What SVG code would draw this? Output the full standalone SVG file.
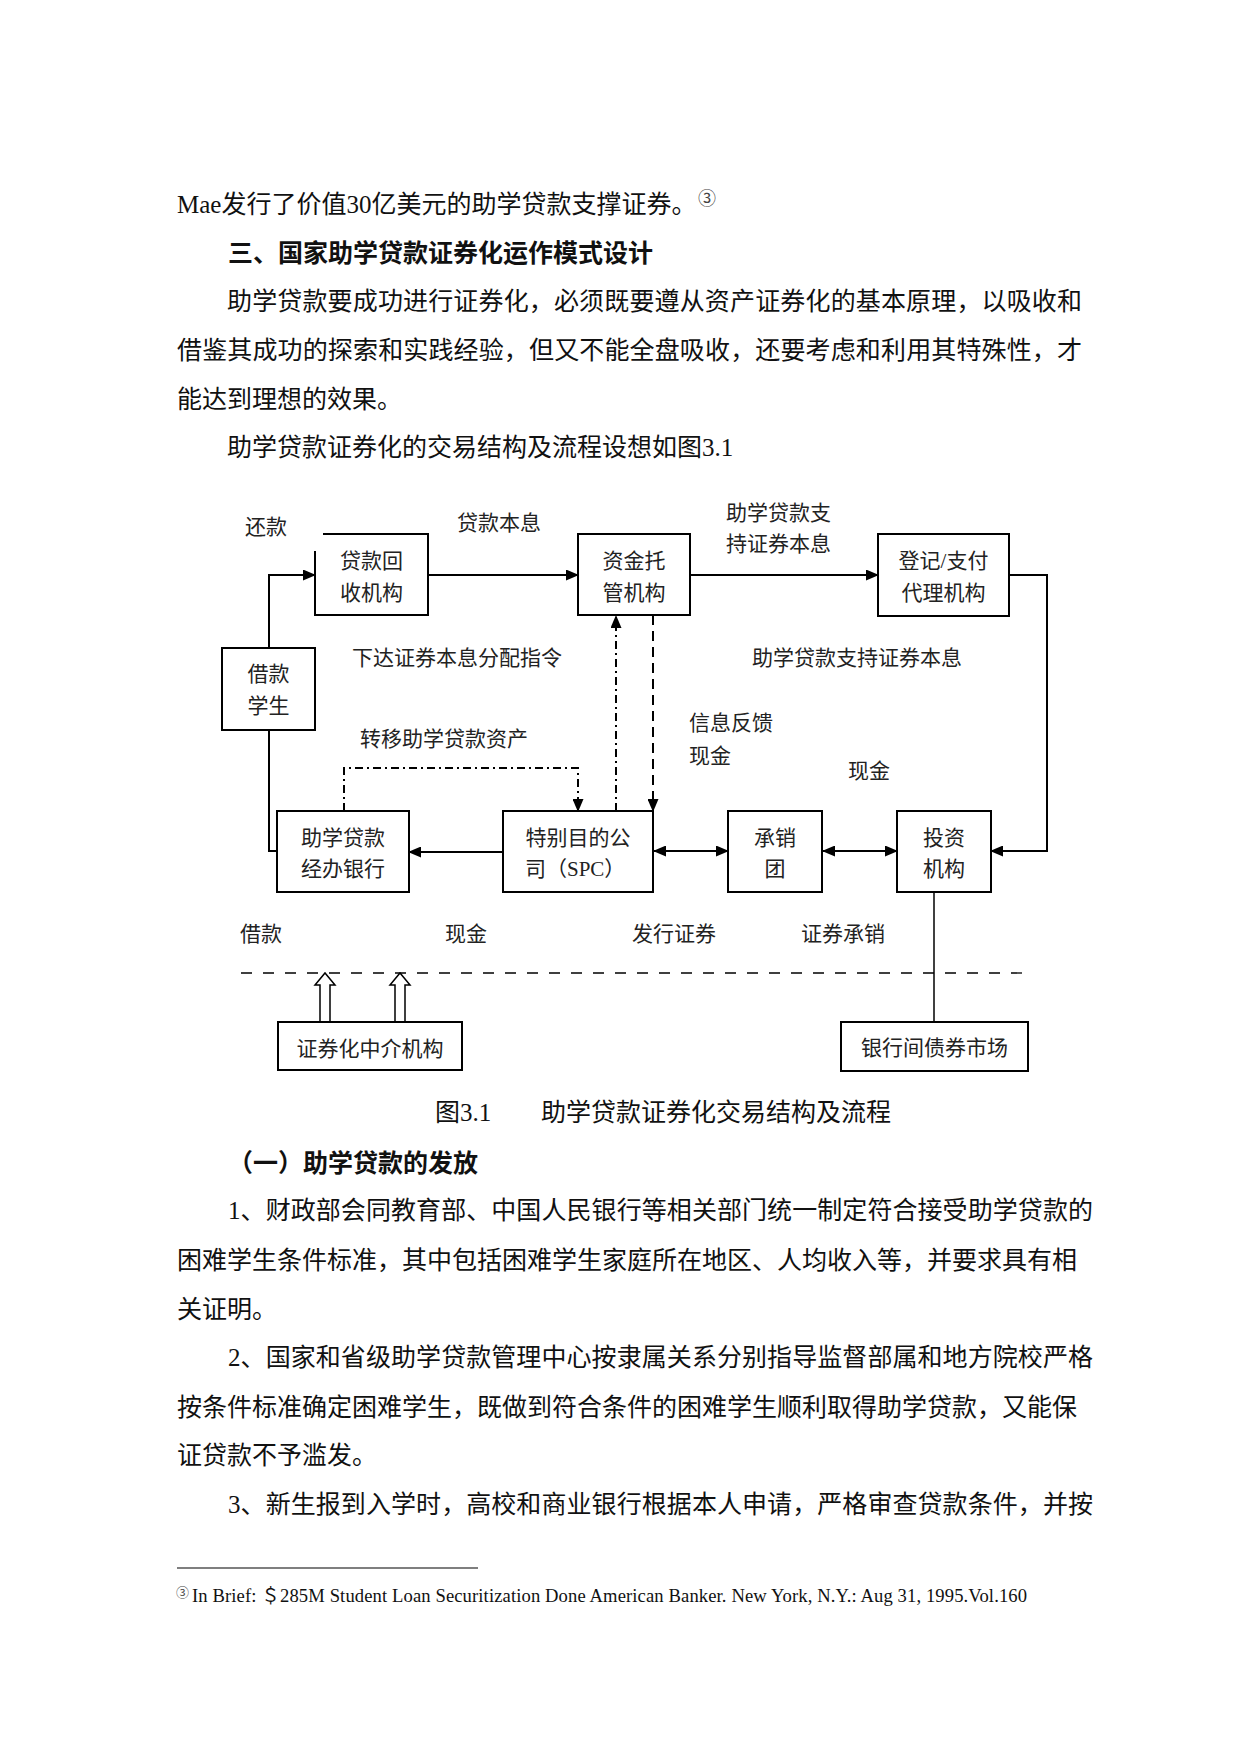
<svg xmlns="http://www.w3.org/2000/svg" width="1241" height="1754" viewBox="0 0 1241 1754">
<style>
.body{font-family:"Liberation Serif","Noto Sans CJK SC",serif;font-size:25px;fill:#111}
.bold{font-weight:bold}
.sup1{font-size:18px;fill:#444}
.sup2{font-size:13px;fill:#444}
.foot{font-size:18.6px}
.dg{font-family:"Liberation Serif","Noto Sans CJK SC",serif;font-size:21px;fill:#222}
.mid{text-anchor:middle}
.box{fill:none;stroke:#000;stroke-width:2}
.ln{fill:none;stroke:#000;stroke-width:2}
.dashdot{stroke-dasharray:8 4 2 4}
.dash{stroke-dasharray:10 6}
.hollow{fill:#fff;stroke:#000;stroke-width:1.5}
</style>
<defs>
<marker id="ah" markerUnits="userSpaceOnUse" markerWidth="13" markerHeight="11" viewBox="0 0 13 11" refX="12" refY="5.5" orient="auto-start-reverse">
<path d="M0,0 L13,5.5 L0,11 z" fill="#000"/>
</marker>
</defs>
<rect x="0" y="0" width="1241" height="1754" fill="#fff"/>

<g id="page-text">
<text class="body" x="177" y="212.5">Mae发行了价值30亿美元的助学贷款支撑证券。</text>
<text class="body sup1" x="698" y="205">③</text>
<text class="body bold" x="228" y="261.5">三、国家助学贷款证券化运作模式设计</text>
<text class="body" x="227" y="309.5" textLength="855" lengthAdjust="spacing">助学贷款要成功进行证券化，必须既要遵从资产证券化的基本原理，以吸收和</text>
<text class="body" x="177" y="358.5" textLength="905" lengthAdjust="spacing">借鉴其成功的探索和实践经验，但又不能全盘吸收，还要考虑和利用其特殊性，才</text>
<text class="body" x="177" y="407.5">能达到理想的效果。</text>
<text class="body" x="227" y="455.5">助学贷款证券化的交易结构及流程设想如图3.1</text>
<text class="body" x="435" y="1120.5">图3.1</text>
<text class="body" x="541" y="1120.5">助学贷款证券化交易结构及流程</text>
<text class="body bold" x="228" y="1171.5">（一）助学贷款的发放</text>
<text class="body" x="228" y="1218.5" textLength="865" lengthAdjust="spacing">1、财政部会同教育部、中国人民银行等相关部门统一制定符合接受助学贷款的</text>
<text class="body" x="177" y="1268.5">困难学生条件标准，其中包括困难学生家庭所在地区、人均收入等，并要求具有相</text>
<text class="body" x="177" y="1317.5">关证明。</text>
<text class="body" x="228" y="1365.5" textLength="865" lengthAdjust="spacing">2、国家和省级助学贷款管理中心按隶属关系分别指导监督部属和地方院校严格</text>
<text class="body" x="177" y="1415.5">按条件标准确定困难学生，既做到符合条件的困难学生顺利取得助学贷款，又能保</text>
<text class="body" x="177" y="1463.5">证贷款不予滥发。</text>
<text class="body" x="228" y="1512.5" textLength="865" lengthAdjust="spacing">3、新生报到入学时，高校和商业银行根据本人申请，严格审查贷款条件，并按</text>
<line x1="177" y1="1568" x2="478" y2="1568" stroke="#000" stroke-width="1.2"/>
<text class="body sup2" x="176" y="1597">③</text>
<text class="body foot" x="192" y="1602" textLength="835" lengthAdjust="spacing">In Brief: ＄285M Student Loan Securitization Done American Banker. New York, N.Y.: Aug 31, 1995.Vol.160</text>
</g>

<g id="connectors">
<path class="ln" d="M269,648 V575 H315" marker-end="url(#ah)"/>
<path class="ln" d="M269,730 V851 H277"/>
<path class="ln" d="M428,575 H578" marker-end="url(#ah)"/>
<path class="ln" d="M690,575 H878" marker-end="url(#ah)"/>
<path class="ln" d="M1009,575 H1047 V851 H991" marker-end="url(#ah)"/>
<path class="ln" d="M503,852 H409" marker-end="url(#ah)"/>
<path class="ln" d="M654,851 H728" marker-start="url(#ah)" marker-end="url(#ah)"/>
<path class="ln" d="M823,851 H897" marker-start="url(#ah)" marker-end="url(#ah)"/>
<path class="ln dashdot" d="M344,811 V768 H578 V811" marker-end="url(#ah)"/>
<path class="ln dashdot" d="M616,811 V616" marker-end="url(#ah)"/>
<path class="ln dash" d="M653,615 V811" marker-end="url(#ah)"/>
<path fill="none" stroke="#000" stroke-width="1.5" d="M934,892 V1022"/>
<line x1="241" y1="973" x2="1028" y2="973" stroke="#000" stroke-width="1.3" stroke-dasharray="11 11"/>
<polygon class="hollow" points="320,1022 320,985 315,985 325,973 335,985 330,985 330,1022"/>
<polygon class="hollow" points="395,1022 395,985 390,985 400,973 410,985 405,985 405,1022"/>
</g>

<g id="connector-labels">
<text class="dg" x="245" y="534">还款</text>
<text class="dg" x="457" y="530">贷款本息</text>
<text class="dg" x="726" y="520">助学贷款支</text>
<text class="dg" x="726" y="551">持证券本息</text>
<text class="dg" x="352" y="665">下达证券本息分配指令</text>
<text class="dg" x="752" y="665">助学贷款支持证券本息</text>
<text class="dg" x="360" y="746">转移助学贷款资产</text>
<text class="dg" x="689" y="730">信息反馈</text>
<text class="dg" x="689" y="763">现金</text>
<text class="dg" x="848" y="778">现金</text>
<text class="dg" x="240" y="941">借款</text>
<text class="dg" x="445" y="941">现金</text>
<text class="dg" x="632" y="941">发行证券</text>
<text class="dg" x="801" y="941">证券承销</text>
</g>

<g id="node-loan-collection">
<path class="box" d="M323,534 H428 V615 H315 V551"/>
<text class="dg mid" x="371.5" y="568">贷款回</text>
<text class="dg mid" x="371.5" y="600">收机构</text>
</g>
<g id="node-custodian">
<rect class="box" x="578" y="534" width="112" height="81"/>
<text class="dg mid" x="634" y="568">资金托</text>
<text class="dg mid" x="634" y="600">管机构</text>
</g>
<g id="node-registrar">
<rect class="box" x="878" y="534" width="131" height="82"/>
<text class="dg mid" x="943.5" y="568">登记/支付</text>
<text class="dg mid" x="943.5" y="600">代理机构</text>
</g>
<g id="node-student">
<rect class="box" x="222" y="648" width="93" height="82"/>
<text class="dg mid" x="268.5" y="681">借款</text>
<text class="dg mid" x="268.5" y="713">学生</text>
</g>
<g id="node-bank">
<rect class="box" x="277" y="811" width="132" height="81"/>
<text class="dg mid" x="343" y="845">助学贷款</text>
<text class="dg mid" x="343" y="876">经办银行</text>
</g>
<g id="node-spc">
<rect class="box" x="503" y="811" width="150" height="81"/>
<text class="dg mid" x="578" y="845">特别目的公</text>
<text class="dg" x="525" y="876">司（SPC）</text>
</g>
<g id="node-underwriter">
<rect class="box" x="728" y="811" width="94" height="81"/>
<text class="dg mid" x="775" y="845">承销</text>
<text class="dg mid" x="775" y="876">团</text>
</g>
<g id="node-investor">
<rect class="box" x="897" y="811" width="94" height="81"/>
<text class="dg mid" x="944" y="845">投资</text>
<text class="dg mid" x="944" y="876">机构</text>
</g>
<g id="node-intermediary">
<rect class="box" x="278" y="1022" width="184" height="48"/>
<text class="dg mid" x="370" y="1056">证券化中介机构</text>
</g>
<g id="node-bond-market">
<rect class="box" x="841" y="1022" width="187" height="49"/>
<text class="dg mid" x="934.5" y="1055">银行间债券市场</text>
</g>
</svg>
